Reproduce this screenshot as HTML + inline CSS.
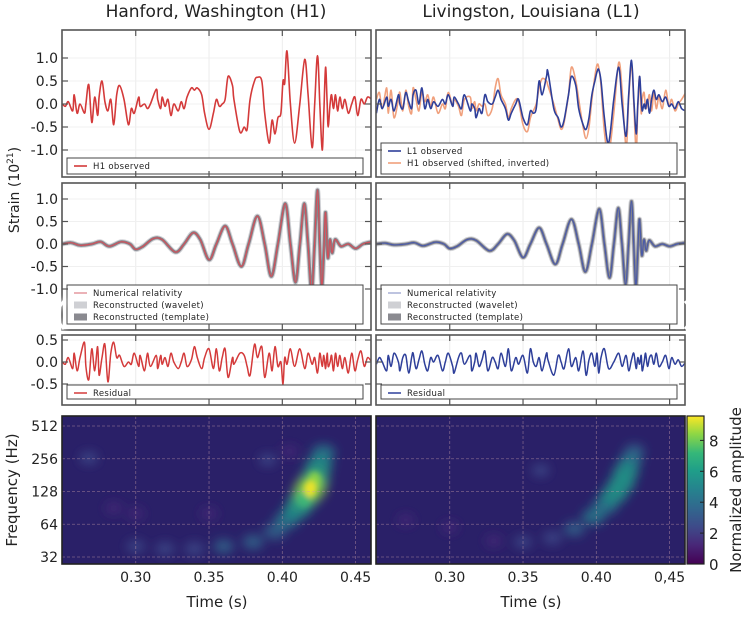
<!DOCTYPE html>
<html><head><meta charset="utf-8">
<style>
html,body{margin:0;padding:0;background:#fff;}
body{width:750px;height:628px;overflow:hidden;font-family:"Liberation Sans","DejaVu Sans",sans-serif;}
svg text{font-family:"DejaVu Sans","Liberation Sans",sans-serif;}
</style></head>
<body>
<svg id="fig" width="750" height="628" viewBox="0 0 750 628" xmlns="http://www.w3.org/2000/svg">
<defs>
<filter id="blur6" x="-50%" y="-50%" width="200%" height="200%"><feGaussianBlur stdDeviation="5"/></filter>
<filter id="blur3" x="-50%" y="-50%" width="200%" height="200%"><feGaussianBlur stdDeviation="3"/></filter>
<linearGradient id="viridis" x1="0" y1="1" x2="0" y2="0">
<stop offset="0" stop-color="#440154"/><stop offset="0.13" stop-color="#482878"/><stop offset="0.25" stop-color="#3e4a89"/>
<stop offset="0.38" stop-color="#31688e"/><stop offset="0.5" stop-color="#26828e"/><stop offset="0.63" stop-color="#1f9e89"/>
<stop offset="0.75" stop-color="#35b779"/><stop offset="0.88" stop-color="#8fd744"/><stop offset="1" stop-color="#fde725"/>
</linearGradient>
<clipPath id="clipL1"><rect x="62" y="30" width="309" height="147"/></clipPath>
<clipPath id="clipR1"><rect x="376" y="30" width="309" height="147"/></clipPath>
<clipPath id="clipL2"><rect x="62" y="183" width="309" height="147"/></clipPath>
<clipPath id="clipR2"><rect x="376" y="183" width="309" height="147"/></clipPath>
<clipPath id="clipL3"><rect x="62" y="335" width="309" height="70"/></clipPath>
<clipPath id="clipR3"><rect x="376" y="335" width="309" height="70"/></clipPath>
<clipPath id="clipL4"><rect x="62" y="416" width="309" height="148"/></clipPath>
<clipPath id="clipR4"><rect x="376" y="416" width="309" height="148"/></clipPath>
</defs>
</svg>
<script>
// ---------- data ----------
const sampleTimes = [0.250,0.252,0.254,0.257,0.258,0.260,0.262,0.265,0.266,0.268,0.270,0.272,0.274,0.275,0.277,0.279,0.281,0.283,0.285,0.287,0.289,0.292,0.295,0.297,0.299,0.302,0.303,0.306,0.308,0.310,0.314,0.315,0.317,0.318,0.320,0.322,0.324,0.326,0.329,0.331,0.333,0.335,0.338,0.340,0.342,0.345,0.347,0.350,0.353,0.355,0.357,0.359,0.361,0.363,0.366,0.367,0.371,0.374,0.376,0.378,0.381,0.383,0.386,0.388,0.391,0.393,0.395,0.397,0.399,0.4005,0.4016,0.4032,0.4055,0.4084,0.4119,0.4153,0.4176,0.4203,0.4221,0.424,0.4256,0.4272,0.4283,0.4295,0.4306,0.4313,0.4326,0.4336,0.4349,0.4363,0.4377,0.4393,0.4409,0.4427,0.445,0.4473,0.4495,0.4514,0.4537,0.4559,0.4582,0.461];
const h1Observed = [0.0,-0.05,0.05,-0.15,0.2,-0.2,0.0,-0.2,0.0,0.42,-0.4,0.15,-0.25,0.15,0.5,0.05,-0.15,0.1,-0.45,0.2,0.4,0.1,-0.45,-0.1,-0.2,0.15,-0.05,0.0,-0.1,0.0,0.32,0.1,-0.1,0.15,-0.05,0.1,-0.25,0.0,-0.15,0.05,-0.1,0.15,0.35,0.3,0.35,0.2,-0.2,-0.55,-0.2,0.1,-0.05,0.0,0.1,0.6,0.4,0.1,-0.6,-0.5,-0.55,0.1,0.5,0.58,0.5,-0.2,-0.85,-0.35,-0.65,-0.3,-0.2,0.5,0.45,1.15,0.0,-0.85,0.0,0.97,0.2,-0.95,0.0,1.05,0.0,-1.0,-0.2,0.8,0.0,-0.5,0.0,0.2,-0.1,0.2,-0.15,0.15,-0.1,0.1,-0.2,0.0,0.15,-0.25,0.1,0.0,0.15,0.1];
const l1Observed = [-0.2,0.1,-0.1,0.15,-0.05,0.1,-0.15,0.2,0.0,-0.1,0.25,0.05,-0.1,0.2,0.3,0.0,0.35,-0.1,0.1,-0.1,0.05,-0.05,0.1,0.0,0.2,-0.05,0.15,0.0,-0.1,0.2,-0.15,0.0,-0.1,-0.3,-0.1,-0.2,0.2,0.05,0.0,0.15,0.3,0.1,-0.1,-0.35,-0.2,0.0,0.1,-0.3,-0.45,-0.15,-0.2,-0.1,0.5,0.2,0.6,0.7,-0.1,-0.3,-0.5,-0.35,0.2,0.6,0.4,-0.1,-0.45,-0.55,-0.3,0.2,0.5,0.7,0.75,0.5,-0.3,-0.85,0.1,0.8,0.0,-0.7,0.2,0.95,0.1,-0.65,0.0,0.6,0.1,-0.15,0.0,-0.1,0.1,-0.2,0.1,0.3,0.1,0.2,0.05,0.15,-0.05,0.0,-0.1,0.05,-0.1,-0.15];
const h1ShiftedInverted = [0.1,0.25,-0.1,0.35,-0.2,0.3,-0.3,0.1,0.25,-0.15,0.3,-0.05,-0.2,0.35,0.1,-0.15,0.25,0.05,0.2,-0.05,0.15,-0.2,0.0,-0.1,0.25,-0.05,0.1,-0.05,-0.25,0.1,0.15,-0.1,0.05,-0.15,0.0,-0.05,0.0,-0.25,-0.1,0.35,0.55,0.2,0.0,-0.3,-0.1,0.1,0.05,-0.45,-0.6,-0.3,-0.15,0.0,0.35,0.55,0.5,0.4,0.0,-0.35,-0.55,-0.4,0.2,0.8,0.5,0.1,-0.5,-0.75,-0.5,0.1,0.6,0.85,0.8,0.4,-0.6,-1.1,-0.2,0.9,0.3,-0.95,0.1,0.85,0.0,-1.05,-0.1,0.6,-0.2,0.1,0.25,-0.1,0.0,0.2,-0.15,0.25,-0.1,0.15,-0.1,0.3,-0.05,0.1,-0.15,0.0,0.1,0.25];
const h1Residual = [0.0,-0.05,0.1,-0.15,0.2,-0.2,0.1,0.45,-0.1,-0.4,0.3,-0.2,0.35,-0.3,0.1,0.4,-0.45,0.2,0.45,0.1,0.15,-0.1,0.0,-0.05,0.2,-0.1,0.15,-0.2,0.2,-0.1,0.15,-0.15,0.15,-0.05,0.1,-0.1,0.2,0.0,-0.15,0.0,0.2,-0.1,0.05,0.35,0.1,-0.15,0.1,0.3,-0.15,0.3,-0.2,0.1,0.3,-0.35,0.1,-0.05,0.2,0.15,-0.1,-0.3,0.4,0.1,0.35,-0.35,0.2,-0.2,0.35,-0.1,0.0,-0.5,0.1,-0.05,0.3,-0.1,0.3,-0.15,0.2,-0.05,0.1,-0.25,0.2,-0.1,0.15,-0.15,0.2,-0.1,0.0,0.15,-0.2,0.2,-0.1,0.15,-0.15,0.1,-0.25,0.2,-0.2,0.05,0.25,-0.1,0.1,0.0];
const l1Residual = [-0.05,0.1,0.0,-0.2,0.15,-0.1,0.2,0.0,-0.2,0.1,0.15,-0.25,0.1,0.2,-0.15,0.05,0.25,-0.05,-0.2,0.1,0.0,0.15,-0.2,0.0,0.2,-0.1,-0.25,0.1,0.2,-0.05,0.15,-0.2,0.0,0.2,-0.1,0.05,0.25,-0.2,0.1,0.0,-0.15,0.2,-0.1,0.3,-0.2,0.1,-0.05,0.15,-0.25,0.3,0.0,-0.1,0.1,-0.2,0.2,0.05,-0.3,0.15,0.0,-0.15,0.3,-0.1,0.1,-0.2,0.25,-0.3,0.05,0.2,-0.1,0.2,-0.25,0.1,0.3,-0.15,0.0,0.2,-0.1,0.15,-0.2,0.05,0.2,-0.15,0.1,-0.05,0.15,-0.2,0.0,0.2,-0.1,0.1,0.15,-0.05,0.2,-0.1,0.0,0.15,-0.15,0.1,-0.05,0.05,-0.1,0.0];
const nrTimes = [0.250,0.256,0.262,0.270,0.276,0.282,0.290,0.296,0.300,0.305,0.312,0.318,0.327,0.333,0.339,0.344,0.350,0.355,0.361,0.366,0.372,0.377,0.383,0.388,0.3925,0.397,0.402,0.4055,0.409,0.412,0.415,0.4175,0.420,0.422,0.424,0.4255,0.427,0.4285,0.4295,0.431,0.4325,0.434,0.436,0.440,0.445,0.450,0.455,0.461];
const nrH1 = [0.0,0.03,-0.03,0.0,0.05,-0.05,0.05,0.0,-0.12,-0.05,0.12,0.1,-0.18,0.0,0.25,0.1,-0.35,0.0,0.4,0.0,-0.5,0.0,0.62,0.0,-0.72,0.0,0.9,0.0,-0.85,0.0,0.9,0.0,-1.05,0.0,1.2,0.0,-0.95,0.0,0.7,-0.3,0.1,-0.2,0.1,-0.05,0.0,-0.1,0.0,0.05];
const nrL1 = [0.0,0.02,-0.02,0.0,0.03,-0.04,0.04,0.0,-0.1,-0.05,0.1,0.08,-0.15,0.0,0.22,0.08,-0.3,0.0,0.36,0.0,-0.45,0.0,0.55,0.0,-0.62,0.0,0.78,0.0,-0.75,0.0,0.8,0.0,-0.9,0.0,0.95,0.0,-0.95,0.0,0.55,-0.25,0.1,-0.15,0.08,-0.05,0.0,-0.05,0.0,0.03];
const strainTicks = [-1.0,-0.5,0.0,0.5,1.0];
const strainLabels = ["-1.0","-0.5","0.0","0.5","1.0"];
const residualTicks = [-0.5,0.0,0.5];
const residualLabels = ["-0.5","0.0","0.5"];
const timeTicks = [0.30,0.35,0.40,0.45];
const timeLabelsL = ["0.30","0.35","0.40","0.45"];
const timeLabelsR = ["0.30","0.35","0.40","0,45"];
const freqTicks = [32,64,128,256,512];
const colorTicks = [0,2,4,6,8];
// spectrogram energy tracks: time (s), frequency (Hz), normalized amplitude
const specH1Times = [0.300,0.320,0.340,0.360,0.380,0.395,0.403,0.410,0.415,0.419,0.422,0.425,0.428,0.268,0.285,0.300,0.390,0.405,0.350];
const specH1Freqs = [40,38,38,40,44,55,70,88,110,135,165,220,290,260,90,80,250,300,80];
const specH1Amps  = [2.2,2.6,2.8,3.0,3.4,4.0,5.0,6.0,7.2,8.5,7.5,6.0,4.5,2.2,1.6,1.5,1.8,1.5,1.6];
const specL1Times = [0.330,0.350,0.370,0.385,0.398,0.406,0.412,0.417,0.420,0.423,0.426,0.362,0.300,0.270];
const specL1Freqs = [45,44,48,58,75,95,120,150,190,240,300,200,60,70];
const specL1Amps  = [1.5,1.9,2.5,3.2,4.2,5.2,5.8,6.0,5.5,4.5,3.0,1.8,1.2,1.2];

// ---------- helpers ----------
const NS = "http://www.w3.org/2000/svg";
const svg = document.getElementById("fig");
function mk(tag, attrs, parent){
  const e = document.createElementNS(NS, tag);
  for (const k in attrs) e.setAttribute(k, attrs[k]);
  (parent || svg).appendChild(e);
  return e;
}
const T0 = 0.2497, T1 = 0.4605;
function xAxis(x0, w){ return t => x0 + (t - T0) / (T1 - T0) * w; }
function yAxis(y0, scale){ return v => y0 - v * scale; }
function yFreq(f){ return 557 - (Math.log2(f) - 5) * 32.75; }
function viridis(a){
  const c = ["#440154","#482878","#3e4a89","#31688e","#26828e","#1f9e89","#35b779","#8fd744","#fde725"];
  const p = Math.max(0, Math.min(1, a / 9.6)) * (c.length - 1);
  return c[Math.round(p)];
}
function smoothPath(ts, vs, X, Y){
  const n = Math.min(ts.length, vs.length);
  const P = [];
  for (let i = 0; i < n; i++) P.push([X(ts[i]), Y(vs[i])]);
  let d = "M" + P[0][0].toFixed(1) + "," + P[0][1].toFixed(1);
  for (let i = 0; i < n - 1; i++){
    const p0 = P[Math.max(0,i-1)], p1 = P[i], p2 = P[i+1], p3 = P[Math.min(n-1,i+2)];
    const c1 = [p1[0] + (p2[0]-p0[0])/6, p1[1] + (p2[1]-p0[1])/6];
    const c2 = [p2[0] - (p3[0]-p1[0])/6, p2[1] - (p3[1]-p1[1])/6];
    d += "C" + c1[0].toFixed(1) + "," + c1[1].toFixed(1) + " " + c2[0].toFixed(1) + "," + c2[1].toFixed(1) + " " + p2[0].toFixed(1) + "," + p2[1].toFixed(1);
  }
  return d;
}
const linePath = smoothPath;

function panelFrame(name, x0, y0, w, h, yticks, ylabels, Y){
  const g = mk("g", {});
  
  
  const X = xAxis(x0, w);
  timeTicks.forEach(t => {
    const gl = mk("line", {x1:X(t), x2:X(t), y1:y0, y2:y0+h, stroke:"#ececec", "stroke-width":1}, g);
    
    
  });
  yticks.forEach(v => {
    const gl = mk("line", {x1:x0, x2:x0+w, y1:Y(v), y2:Y(v), stroke:"#f0f0f0", "stroke-width":1}, g);
    
    
  });
  return {g, X};
}
function panelBorder(g, x0, y0, w, h, yticks, ylabels, Y, showYLabels, tickColor){
  const X = xAxis(x0, w);
  timeTicks.forEach(t => {
    const a = mk("line", {x1:X(t), x2:X(t), y1:y0, y2:y0+6, stroke:tickColor, "stroke-width":1.2}, g);
    
    
    const b = mk("line", {x1:X(t), x2:X(t), y1:y0+h-6, y2:y0+h, stroke:tickColor, "stroke-width":1.2}, g);
    
    
  });
  yticks.forEach((v, i) => {
    const a = mk("line", {x1:x0, x2:x0+6, y1:Y(v), y2:Y(v), stroke:tickColor, "stroke-width":1.2}, g);
    
    
    const b = mk("line", {x1:x0+w-6, x2:x0+w, y1:Y(v), y2:Y(v), stroke:tickColor, "stroke-width":1.2}, g);
    
    
    if (showYLabels){
      const tx = mk("text", {x:x0-4, y:Y(v)+5, "text-anchor":"end", "font-size":14, fill:"#222"}, g);
      
      
      tx.textContent = ylabels[i];
    }
  });
  const r = mk("rect", {x:x0, y:y0, width:w, height:h, fill:"none", stroke:"#555", "stroke-width":1.6}, g);
  
  
}
function legend(g, x, y, w, h, entries){
  const lg = mk("g", {}, g);
  
  
  const r = mk("rect", {x, y, width:w, height:h, fill:"#fff", stroke:"#444", "stroke-width":1}, lg);
  
  
  entries.forEach((e, i) => {
    const cy = y + 8 + i * 12;
    const ln = mk("line", {x1:x+7, x2:x+20, y1:cy, y2:cy, stroke:e.color, "stroke-width":e.width}, lg);
    
    
    const t = mk("text", {x:x+26, y:cy+3, "font-size":8.5, fill:"#222", "letter-spacing":"0.3"}, lg);
    
    
    t.textContent = e.label;
  });
}
function series(g, d, color, width, name, clip, opacity){
  const p = mk("path", {d, fill:"none", stroke:color, "stroke-width":width, "stroke-linejoin":"round", "clip-path":"url(#"+clip+")", opacity:opacity||1}, g);
  
  
  return p;
}

// ---------- titles ----------
let t;
t = mk("text", {x:216, y:17, "text-anchor":"middle", "font-size":17, fill:"#222"});


t.textContent = "Hanford, Washington (H1)";
t = mk("text", {x:531, y:17, "text-anchor":"middle", "font-size":17, fill:"#222"});


t.textContent = "Livingston, Louisiana (L1)";

// ---------- row 1 ----------
const Y1 = yAxis(104, 46);
let P = panelFrame("panel-h1-observed", 62, 30, 309, 147, strainTicks, strainLabels, Y1);
series(P.g, linePath(sampleTimes, h1Observed, P.X, Y1), "#d43a3a", 1.6, "h1-observed-line", "clipL1");
legend(P.g, 67, 158, 296, 16, [{color:"#d43a3a", width:1.6, label:"H1 observed"}]);
panelBorder(P.g, 62, 30, 309, 147, strainTicks, strainLabels, Y1, true, "#555");

P = panelFrame("panel-l1-observed", 376, 30, 309, 147, strainTicks, strainLabels, Y1);
series(P.g, linePath(sampleTimes, h1ShiftedInverted, P.X, Y1), "#f0a07c", 1.6, "h1-shifted-inverted-line", "clipR1");
series(P.g, linePath(sampleTimes, l1Observed, P.X, Y1), "#2e3f9a", 1.6, "l1-observed-line", "clipR1");
legend(P.g, 381, 143, 296, 31, [{color:"#2e3f9a", width:1.6, label:"L1 observed"},{color:"#f0a07c", width:1.6, label:"H1 observed (shifted, inverted)"}]);
panelBorder(P.g, 376, 30, 309, 147, strainTicks, strainLabels, Y1, false, "#555");

// ---------- row 2 ----------
const Y2 = yAxis(244, 45);
P = panelFrame("panel-h1-reconstruction", 62, 183, 309, 147, strainTicks, strainLabels, Y2);
series(P.g, smoothPath(nrTimes, nrH1, P.X, Y2), "#d2d3d7", 5, "wavelet-band", "clipL2");
series(P.g, smoothPath(nrTimes, nrH1, P.X, Y2), "#85858c", 3, "template-band", "clipL2");
series(P.g, smoothPath(nrTimes, nrH1, P.X, Y2), "#d0505a", 1.2, "h1-numerical-relativity-line", "clipL2");
legend(P.g, 67, 285, 296, 39, [{color:"#e08890", width:1.3, label:"Numerical relativity"},{color:"#cfd0d4", width:7, label:"Reconstructed (wavelet)"},{color:"#8a8a90", width:7, label:"Reconstructed (template)"}]);
panelBorder(P.g, 62, 183, 309, 147, strainTicks, strainLabels, Y2, true, "#555");

P = panelFrame("panel-l1-reconstruction", 376, 183, 309, 147, strainTicks, strainLabels, Y2);
series(P.g, smoothPath(nrTimes, nrL1, P.X, Y2), "#d2d3d7", 5, "wavelet-band", "clipR2");
series(P.g, smoothPath(nrTimes, nrL1, P.X, Y2), "#85858c", 3, "template-band", "clipR2");
series(P.g, smoothPath(nrTimes, nrL1, P.X, Y2), "#4a5aa8", 1.2, "l1-numerical-relativity-line", "clipR2");
legend(P.g, 381, 285, 296, 39, [{color:"#9aa3d0", width:1.3, label:"Numerical relativity"},{color:"#cfd0d4", width:7, label:"Reconstructed (wavelet)"},{color:"#8a8a90", width:7, label:"Reconstructed (template)"}]);
panelBorder(P.g, 376, 183, 309, 147, strainTicks, strainLabels, Y2, false, "#555");

// ---------- row 3 ----------
const Y3 = yAxis(362, 44);
P = panelFrame("panel-h1-residual", 62, 335, 309, 70, residualTicks, residualLabels, Y3);
series(P.g, linePath(sampleTimes, h1Residual, P.X, Y3), "#d43a3a", 1.5, "h1-residual-line", "clipL3");
legend(P.g, 67, 385, 296, 14, [{color:"#d43a3a", width:1.5, label:"Residual"}]);
panelBorder(P.g, 62, 335, 309, 70, residualTicks, residualLabels, Y3, true, "#555");

P = panelFrame("panel-l1-residual", 376, 335, 309, 70, residualTicks, residualLabels, Y3);
series(P.g, linePath(sampleTimes, l1Residual, P.X, Y3), "#2e3f9a", 1.5, "l1-residual-line", "clipR3");
legend(P.g, 381, 385, 296, 14, [{color:"#2e3f9a", width:1.5, label:"Residual"}]);
panelBorder(P.g, 376, 335, 309, 70, residualTicks, residualLabels, Y3, false, "#555");

// ---------- row 4: spectrograms ----------
function spectro(name, x0, clip, times, freqs, amps, showLabels){
  const g = mk("g", {});
  
  
  const X = xAxis(x0, 309);
  const bg = mk("rect", {x:x0, y:416, width:309, height:148, fill:"#2a2068"}, g);
  
  
  const blobs = mk("g", {"clip-path":"url(#"+clip+")", filter:"url(#blur6)"}, g);
  
  
  const order = times.map((v,i)=>i).sort((a,b)=>amps[a]-amps[b]);
  order.forEach(i => {
    const rx = 7 + amps[i] * 1.1, ry = 5 + amps[i] * 0.8;
    const e = mk("ellipse", {cx:X(times[i]), cy:yFreq(freqs[i]), rx, ry, fill:viridis(amps[i]), opacity:0.75}, blobs);
    
    
  });
  const core = mk("g", {"clip-path":"url(#"+clip+")", filter:"url(#blur3)"}, g);
  
  
  order.filter(i => amps[i] >= 7).forEach(i => {
    const e = mk("ellipse", {cx:X(times[i]), cy:yFreq(freqs[i]), rx:3 + amps[i]*0.4, ry:4 + amps[i]*0.5, fill:viridis(amps[i]+0.5), opacity:0.85}, core);
    
    
  });
  timeTicks.forEach((tt, i) => {
    const gl = mk("line", {x1:X(tt), x2:X(tt), y1:416, y2:564, stroke:"#c9a0a8", "stroke-width":0.8, "stroke-dasharray":"3,2", opacity:0.5}, g);
    
    
    const lb = mk("text", {x:X(tt), y:582, "text-anchor":"middle", "font-size":14, fill:"#222"}, g);
    
    
    lb.textContent = (x0 < 200 ? timeLabelsL : timeLabelsR)[i];
  });
  freqTicks.forEach(f => {
    const gl = mk("line", {x1:x0, x2:x0+309, y1:yFreq(f), y2:yFreq(f), stroke:"#c9a0a8", "stroke-width":0.8, "stroke-dasharray":"3,2", opacity:0.5}, g);
    
    
    if (showLabels){
      const lb = mk("text", {x:x0-4, y:yFreq(f)+5, "text-anchor":"end", "font-size":14, fill:"#222"}, g);
      
      
      lb.textContent = String(f);
    }
  });
  const r = mk("rect", {x:x0, y:416, width:309, height:148, fill:"none", stroke:"#222", "stroke-width":1.6}, g);
  
  
  const xl = mk("text", {x:x0+155, y:607, "text-anchor":"middle", "font-size":15, fill:"#222"}, g);
  
  
  xl.textContent = "Time (s)";
}
spectro("spectrogram-h1", 62, "clipL4", specH1Times, specH1Freqs, specH1Amps, true);
spectro("spectrogram-l1", 376, "clipR4", specL1Times, specL1Freqs, specL1Amps, false);

// ---------- colorbar ----------
const cb = mk("g", {});


const cbr = mk("rect", {x:687, y:416, width:17, height:148, fill:"url(#viridis)", stroke:"#222", "stroke-width":1.2}, cb);


const CY = v => 564 - v * 15.45;
colorTicks.forEach(v => {
  const tk = mk("line", {x1:700, x2:704, y1:CY(v), y2:CY(v), stroke:"#222", "stroke-width":1}, cb);
  
  
  const lb = mk("text", {x:709, y:CY(v)+6, "font-size":15, fill:"#222"}, cb);
  
  
  lb.textContent = String(v);
});
const cbl = mk("text", {x:0, y:0, "text-anchor":"middle", "font-size":15, fill:"#222", transform:"translate(741,490) rotate(-90)"}, cb);


cbl.textContent = "Normalized amplitude";

// ---------- y axis titles ----------
const ys = mk("text", {x:0, y:0, "text-anchor":"middle", "font-size":14, fill:"#222", transform:"translate(19,190) rotate(-90)"});


ys.innerHTML = 'Strain (10<tspan dy="-6" font-size="9">21</tspan><tspan dy="6">)</tspan>';
const yf = mk("text", {x:0, y:0, "text-anchor":"middle", "font-size":15, fill:"#222", transform:"translate(17,490) rotate(-90)"});


yf.textContent = "Frequency (Hz)";

// ---------- carousel chevrons ----------
const cl = mk("polyline", {points:"64,300 52,315 64,330", fill:"none", stroke:"#fff", "stroke-width":5, opacity:0.9, filter:"url(#blur3)"});


const cl2 = mk("polyline", {points:"64,301 53,315 64,329", fill:"none", stroke:"#fff", "stroke-width":3});


const cr2 = mk("polyline", {points:"685,301 696,315 685,329", fill:"none", stroke:"#fff", "stroke-width":3});


</script>
</body></html>
